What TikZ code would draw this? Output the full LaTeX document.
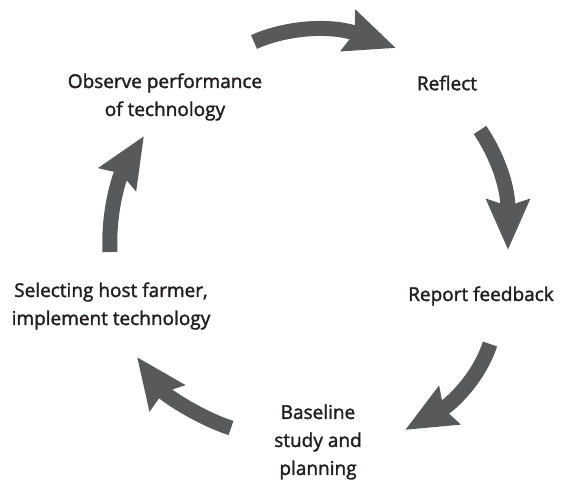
\documentclass[tikz,border=0pt]{standalone}
\usepackage{fontspec}
\setmainfont{Open Sans}
\newfontfamily\labelfont[FakeBold=1.8]{Open Sans}
\usetikzlibrary{arrows.meta}
\definecolor{arrowgray}{HTML}{58595B}
\definecolor{textblack}{HTML}{231F20}

\tikzset{
    steplabel/.style={align=center,text=textblack,font=\labelfont\fontsize{19}{28}\selectfont,inner sep=0pt},
    cyclearrow/.style={draw=arrowgray,line width=15pt,
        -{Stealth[length=50pt,width=42pt,inset=6pt,fill=arrowgray,color=arrowgray]}}
}

\begin{document}
\begin{tikzpicture}[x=1pt,y=-1pt]
    \useasboundingbox (0,0) rectangle (571,481);
    % stage labels
    \node[steplabel] (observe) at (165,97) {Observe performance\\of technology};
    \node[steplabel] (reflect) at (447,83) {Reflect};
    \node[steplabel] (report) at (481,296) {Report feedback};
    \node[steplabel] (selecting) at (111,306) {Selecting host farmer,\\implement technology};
    \node[steplabel] (baseline) at (318,442) {Baseline\\study and\\planning};
    % arrow ends
    \coordinate (a1s) at (254,42);  \coordinate (a1e) at (396,48);
    \coordinate (a2s) at (480,130); \coordinate (a2e) at (508,250);
    \coordinate (a3s) at (490,344); \coordinate (a3e) at (405,430);
    \coordinate (a4s) at (231,428); \coordinate (a4e) at (137,357);
    \coordinate (a5s) at (110,252); \coordinate (a5e) at (144,136);
    % cycle arrows
    \draw[cyclearrow] (a1s) .. controls (285,28) and (330,24) .. (a1e);
    \draw[cyclearrow] (a2s) .. controls (500,160) and (508,190) .. (a2e);
    \draw[cyclearrow] (a3s) .. controls (478,380) and (450,405) .. (a3e);
    \draw[cyclearrow] (a4s) .. controls (200,418) and (165,395) .. (a4e);
    \draw[cyclearrow] (a5s) .. controls (108,210) and (120,175) .. (a5e);
\end{tikzpicture}
\end{document}
